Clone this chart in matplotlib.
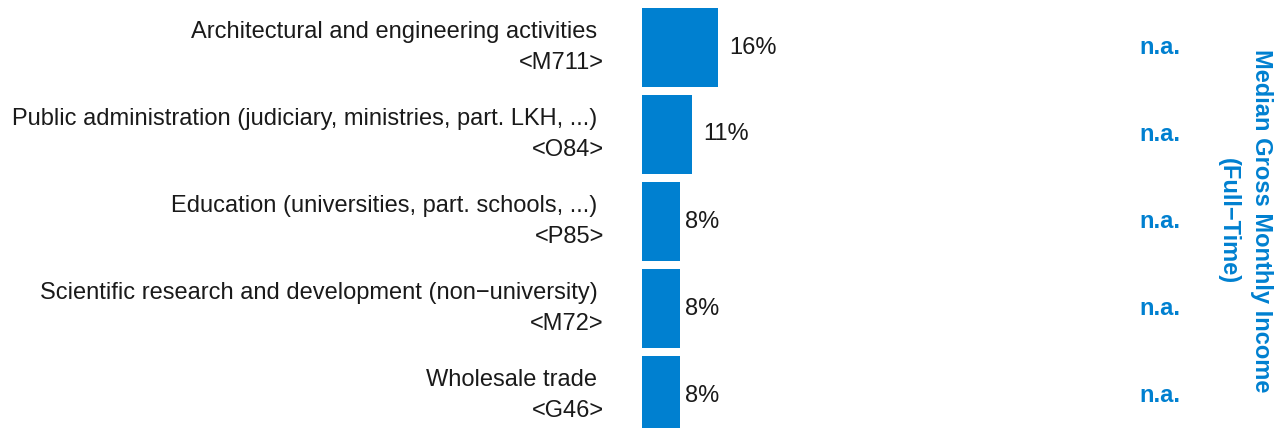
import matplotlib
matplotlib.use("Agg")
import matplotlib.pyplot as plt
from matplotlib.transforms import blended_transform_factory

categories = [
    "Architectural and engineering activities ",
    "Public administration (judiciary, ministries, part. LKH, ...) ",
    "Education (universities, part. schools, ...) ",
    "Scientific research and development (non\u2212university) ",
    "Wholesale trade ",
]
codes = ["<M711>", "<O84>", "<P85>", "<M72>", "<G46>"]
shares = [16, 10.6, 8, 8, 8]
share_labels = ["16%", "11%", "8%", "8%", "8%"]
income = ["n.a.", "n.a.", "n.a.", "n.a.", "n.a."]
income_title = "Median Gross Monthly Income\n(Full\u2212Time)"

BLUE = "#0080D0"
TXT = "#1a1a1a"
FS = 17
plt.rcParams["font.family"] = ["Liberation Sans", "DejaVu Sans"]

W, H = 1282, 428
fig = plt.figure(figsize=(W / 100, H / 100), dpi=100)
ax_left = 642 / W
ax = fig.add_axes([ax_left, 0, 1 - ax_left, 1])

ypos = list(range(len(categories)))
bars = ax.barh(ypos, shares, height=0.9, color=BLUE)
ax.set_xlim(0, 640 / 4.75)
units = H / 87
top = -47.5 / 87
ax.set_ylim(top + units, top)

pads_px = [11, 11, 5, 5, 5]
for y, v, lab, p in zip(ypos, shares, share_labels, pads_px):
    ax.annotate(lab, (v, y), xytext=(p * 72 / 100, 0), textcoords="offset points",
                ha="left", va="center", fontsize=FS, color=TXT)

ax.set_yticks(ypos)
ax.set_yticklabels([f"{c}\n{k}" for c, k in zip(categories, codes)], fontsize=FS, color=TXT,
                   linespacing=1.5, va="center")
ax.tick_params(axis="y", length=0, pad=27.4)
ax.tick_params(axis="x", bottom=False, labelbottom=False)
for s in ax.spines.values():
    s.set_visible(False)

tr = blended_transform_factory(ax.transAxes, ax.transData)
xna = (1160 - 642) / 640
for y, t in zip(ypos, income):
    ax.text(xna, y, t, transform=tr, ha="center", va="center", fontsize=FS,
            fontweight="bold", color=BLUE)

fig.text(1245 / W, 1 - 221 / H, income_title, rotation=-90, ha="center", va="center",
         fontsize=FS, fontweight="bold", color=BLUE, linespacing=1.58)

fig.savefig("out.png", dpi=100)
